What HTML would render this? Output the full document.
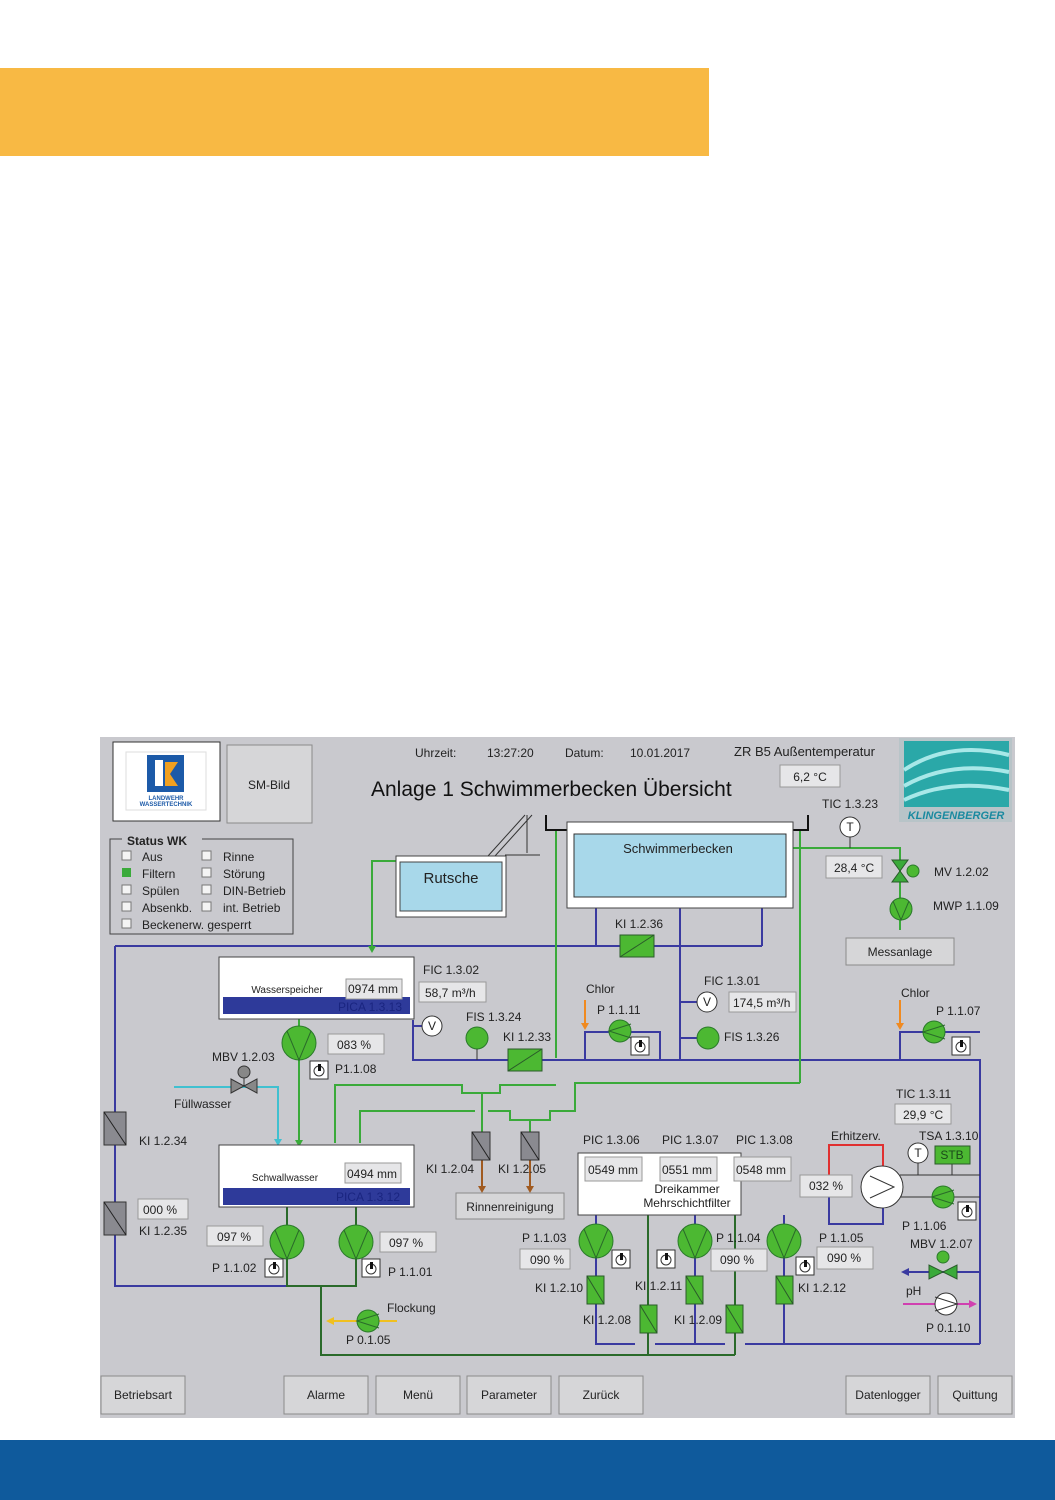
<!DOCTYPE html>
<html><head><meta charset="utf-8"><style>
html,body{margin:0;padding:0;background:#fff}
svg{display:block}
text{font-family:"Liberation Sans",sans-serif;fill:#222;font-size:12px}
.b{fill:#e6e6e8;stroke:#999;stroke-width:1}
.btn{fill:#d6d6d8;stroke:#8a8a8a;stroke-width:1}
.g{stroke:#3aaa3a;stroke-width:2;fill:none}
.dg{stroke:#2a6a2a;stroke-width:2;fill:none}
.bl{stroke:#3a3aa0;stroke-width:2;fill:none}
.pc{fill:#4cb832;stroke:#2a7a2a;stroke-width:1}
.pv{stroke:#2a6a2a;stroke-width:1;fill:none}
.kg{fill:#4cb832;stroke:#2a5a2a;stroke-width:1}
.kgr{fill:#8a8a90;stroke:#333;stroke-width:1}
.cb{fill:#f4f4f4;stroke:#777;stroke-width:1}
.sw{fill:#fff;stroke:#333;stroke-width:1}
</style></head><body>
<svg width="1055" height="1500" viewBox="0 0 1055 1500" xmlns="http://www.w3.org/2000/svg">
<rect x="0" y="68" width="709" height="88" fill="#f8b944"/>
<rect x="0" y="1440" width="1055" height="60" fill="#0f5a9c"/>
<rect x="100" y="737" width="915" height="681" fill="#c9c9ce"/>

<!-- logos -->
<rect x="113" y="742" width="107" height="79" fill="#fff" stroke="#333"/>
<rect x="126" y="752" width="80" height="58" fill="#fff" stroke="#ddd"/>
<rect x="147" y="755" width="37" height="37" fill="#1c5aa8"/>
<rect x="155" y="760" width="8" height="26" fill="#fff"/>
<polygon points="165,762 178,762 170,774 178,786 165,786" fill="#f0a020"/>
<text x="166" y="800" text-anchor="middle" style="font-size:6px;fill:#1c5aa8;font-weight:bold">LANDWEHR</text>
<text x="166" y="806" text-anchor="middle" style="font-size:6px;fill:#1c5aa8;font-weight:bold">WASSERTECHNIK</text>
<rect x="227" y="745" width="85" height="78" class="btn"/>
<text x="269" y="789" text-anchor="middle">SM-Bild</text>
<rect x="899" y="738" width="113" height="84" fill="#b8c4c8"/>
<rect x="904" y="741" width="105" height="66" fill="#2aa8a8"/>
<path d="M904,770 Q950,740 1009,755 M904,786 Q950,760 1009,772 M904,800 Q950,778 1009,790" stroke="#a8e8e8" stroke-width="4" fill="none"/>
<text x="956" y="819" text-anchor="middle" style="font-size:11px;fill:#1a8aa0;font-weight:bold;font-style:italic">KLINGENBERGER</text>

<!-- header -->
<text x="415" y="757">Uhrzeit:</text>
<text x="487" y="757">13:27:20</text>
<text x="565" y="757">Datum:</text>
<text x="630" y="757">10.01.2017</text>
<text x="734" y="756" style="font-size:13px">ZR B5 Außentemperatur</text>
<rect x="780" y="765" width="60" height="22" class="b"/>
<text x="810" y="781" text-anchor="middle">6,2 °C</text>
<text x="371" y="796" style="font-size:21px;fill:#111">Anlage 1 Schwimmerbecken Übersicht</text>

<!-- status -->
<rect x="110" y="839" width="183" height="95" fill="none" stroke="#444"/>
<rect x="122" y="832" width="80" height="14" fill="#c9c9ce"/>
<text x="127" y="845" style="font-weight:bold;font-size:12px">Status WK</text>
<g>
<rect x="122" y="851" width="9" height="9" class="cb"/><text x="142" y="861">Aus</text>
<rect x="122" y="868" width="9" height="9" fill="#3aaa3a"/><text x="142" y="878">Filtern</text>
<rect x="122" y="885" width="9" height="9" class="cb"/><text x="142" y="895">Spülen</text>
<rect x="122" y="902" width="9" height="9" class="cb"/><text x="142" y="912">Absenkb.</text>
<rect x="122" y="919" width="9" height="9" class="cb"/><text x="142" y="929">Beckenerw. gesperrt</text>
<rect x="202" y="851" width="9" height="9" class="cb"/><text x="223" y="861">Rinne</text>
<rect x="202" y="868" width="9" height="9" class="cb"/><text x="223" y="878">Störung</text>
<rect x="202" y="885" width="9" height="9" class="cb"/><text x="223" y="895">DIN-Betrieb</text>
<rect x="202" y="902" width="9" height="9" class="cb"/><text x="223" y="912">int. Betrieb</text>
</g>

<!-- pipes -->
<path class="bl" d="M115,946 H762 M596,908 V946 M762,908 V946 M680,908 V1060 M115,946 V1286 H320"/>
<path class="bl" d="M413,1020 V1060 H980 V1344 M585,1060 V1032 H660 V1060 M900,1060 V1032 H980 M680,1002 H697 M680,1038 H697 M440,1026 H413"/>
<path class="bl" d="M596,1215 V1344 H635 M655,1344 H725 M745,1344 H980 M695,1215 V1344 M784,1215 V1344"/>
<path class="bl" d="M829,1195 V1224 H883 V1208 M903,1272 H980"/>
<polygon points="901,1272 909,1268 909,1276" fill="#3a3aa0"/>
<path d="M829,1187 V1145 H883 V1166" stroke="#e03030" stroke-width="2" fill="none"/>
<path class="g" d="M396,861 H372 V948 M556,830 V1058 M800,830 V1083 M793,848 H900 V930 M299,1019 V1143 M335,1143 V1085 H462 V1093 H500 V1085 H556 M360,1143 V1111 H475 M488,1111 H510 V1120 H550 V1111 H575 V1083 H800 M482,1093 V1132 M530,1120 V1132"/>
<polygon points="368,946 376,946 372,953" fill="#3aaa3a"/>
<polygon points="295,1140 303,1140 299,1147" fill="#3aaa3a"/>
<path d="M174,1087 H278 V1141" stroke="#40c0d0" stroke-width="2" fill="none"/>
<polygon points="274,1139 282,1139 278,1146" fill="#40c0d0"/>
<path d="M482,1160 V1188 M530,1160 V1188" stroke="#a05a20" stroke-width="2"/>
<polygon points="478,1186 486,1186 482,1193" fill="#a05a20"/>
<polygon points="526,1186 534,1186 530,1193" fill="#a05a20"/>
<path class="dg" d="M287,1207 V1286 H356 V1207 M321,1286 V1355 H735 M648,1215 V1355 M735,1215 V1355"/>
<path d="M330,1321 H397" stroke="#f0c020" stroke-width="2"/>
<polygon points="326,1321 334,1317 334,1325" fill="#f0c020"/>
<path d="M585,1000 V1025 M900,1000 V1025" stroke="#f08a20" stroke-width="2"/>
<polygon points="581,1023 589,1023 585,1030" fill="#f08a20"/>
<polygon points="896,1023 904,1023 900,1030" fill="#f08a20"/>
<path d="M903,1304 H972" stroke="#d040b0" stroke-width="2"/>
<polygon points="977,1304 969,1300 969,1308" fill="#d040b0"/>
<path d="M900,1175 H980 M900,1197 H980 M918,1163 V1175 M952,1164 V1175" stroke="#333" stroke-width="1"/>

<!-- slide & bracket -->
<path d="M488,856 L525,815 M495,856 L532,815 M505,855 H540 M527,815 V853" stroke="#333" stroke-width="1" fill="none"/>
<path d="M546,815 V830 H567 M808,815 V830 H793" stroke="#111" stroke-width="2" fill="none"/>

<!-- tanks -->
<rect x="396" y="856" width="110" height="61" fill="#fff" stroke="#444"/>
<rect x="400" y="862" width="102" height="49" fill="#a8d8ea" stroke="#444"/>
<text x="451" y="883" text-anchor="middle" style="font-size:15px">Rutsche</text>
<rect x="567" y="822" width="226" height="86" fill="#fff" stroke="#444"/>
<rect x="574" y="834" width="212" height="63" fill="#a8d8ea" stroke="#333"/>
<text x="678" y="853" text-anchor="middle" style="font-size:13px">Schwimmerbecken</text>
<rect x="219" y="957" width="195" height="62" fill="#fff" stroke="#444"/>
<rect x="223" y="997" width="187" height="17" fill="#2e3a9a"/>
<text x="287" y="993" text-anchor="middle" style="font-size:10px">Wasserspeicher</text>
<rect x="346" y="979" width="56" height="20" class="b"/><text x="348" y="993">0974 mm</text>
<text x="402" y="1011" text-anchor="end" style="fill:#1a2580">PICA 1.3.13</text>
<rect x="219" y="1145" width="195" height="62" fill="#fff" stroke="#444"/>
<rect x="223" y="1188" width="187" height="17" fill="#2e3a9a"/>
<text x="285" y="1181" text-anchor="middle" style="font-size:10px">Schwallwasser</text>
<rect x="345" y="1163" width="56" height="20" class="b"/><text x="347" y="1178">0494 mm</text>
<text x="400" y="1201" text-anchor="end" style="fill:#1a2580">PICA 1.3.12</text>
<rect x="578" y="1153" width="163" height="62" fill="#fff" stroke="#444"/>
<rect x="585" y="1157" width="57" height="24" class="b"/><text x="588" y="1174">0549 mm</text>
<rect x="660" y="1157" width="57" height="24" class="b"/><text x="662" y="1174">0551 mm</text>
<rect x="734" y="1157" width="57" height="24" class="b"/><text x="736" y="1174">0548 mm</text>
<text x="687" y="1193" text-anchor="middle">Dreikammer</text>
<text x="687" y="1207" text-anchor="middle">Mehrschichtfilter</text>

<!-- KI boxes -->
<g stroke="#2a5a2a" stroke-width="1">
<rect x="620" y="935" width="34" height="22" class="kg"/><line x1="620" y1="957" x2="654" y2="935"/>
<rect x="508" y="1049" width="34" height="22" class="kg"/><line x1="508" y1="1071" x2="542" y2="1049"/>
<rect x="587" y="1276" width="17" height="28" class="kg"/><line x1="587" y1="1276" x2="604" y2="1304"/>
<rect x="640" y="1305" width="17" height="28" class="kg"/><line x1="640" y1="1305" x2="657" y2="1333"/>
<rect x="686" y="1276" width="17" height="28" class="kg"/><line x1="686" y1="1276" x2="703" y2="1304"/>
<rect x="726" y="1305" width="17" height="28" class="kg"/><line x1="726" y1="1305" x2="743" y2="1333"/>
<rect x="776" y="1276" width="17" height="28" class="kg"/><line x1="776" y1="1276" x2="793" y2="1304"/>
</g>
<g stroke="#222" stroke-width="1">
<rect x="104" y="1112" width="22" height="33" class="kgr"/><line x1="104" y1="1112" x2="126" y2="1145"/>
<rect x="104" y="1202" width="22" height="33" class="kgr"/><line x1="104" y1="1202" x2="126" y2="1235"/>
<rect x="472" y="1132" width="18" height="28" class="kgr"/><line x1="472" y1="1132" x2="490" y2="1160"/>
<rect x="521" y="1132" width="18" height="28" class="kgr"/><line x1="521" y1="1132" x2="539" y2="1160"/>
</g>

<!-- big pumps -->
<g>
<circle cx="299" cy="1043" r="17" class="pc"/><polyline points="287,1031 299,1060 311,1031" class="pv"/>
<circle cx="287" cy="1242" r="17" class="pc"/><polyline points="275,1230 287,1259 299,1230" class="pv"/>
<circle cx="356" cy="1242" r="17" class="pc"/><polyline points="344,1230 356,1259 368,1230" class="pv"/>
<circle cx="596" cy="1241" r="17" class="pc"/><polyline points="584,1229 596,1258 608,1229" class="pv"/>
<circle cx="695" cy="1241" r="17" class="pc"/><polyline points="683,1229 695,1258 707,1229" class="pv"/>
<circle cx="784" cy="1241" r="17" class="pc"/><polyline points="772,1229 784,1258 796,1229" class="pv"/>
<circle cx="901" cy="909" r="11" class="pc"/><polyline points="893,901 901,920 909,901" class="pv"/>
<circle cx="477" cy="1038" r="11" class="pc"/><line x1="477" y1="1049" x2="477" y2="1060" stroke="#333"/>
<circle cx="708" cy="1038" r="11" class="pc"/>
<circle cx="620" cy="1031" r="11" class="pc"/><polyline points="631,1024 609,1031 631,1038" class="pv"/>
<circle cx="934" cy="1032" r="11" class="pc"/><polyline points="945,1025 923,1032 945,1039" class="pv"/>
<circle cx="368" cy="1321" r="11" class="pc"/><polyline points="379,1314 357,1321 379,1328" class="pv"/>
<circle cx="943" cy="1197" r="11" class="pc"/><polyline points="954,1190 932,1197 954,1204" class="pv"/>
<circle cx="946" cy="1304" r="11" fill="#fff" stroke="#333"/><polyline points="935,1297 957,1304 935,1311" fill="none" stroke="#333"/>
</g>
<!-- valves -->
<polygon points="892,860 908,860 892,882 908,882" fill="#3aaa3a" stroke="#2a5a2a"/>
<circle cx="913" cy="871" r="6" class="pc"/>
<polygon points="231,1079 231,1093 257,1079 257,1093" fill="#888" stroke="#333"/>
<circle cx="244" cy="1072" r="6" fill="#888" stroke="#333"/>
<line x1="244" y1="1078" x2="244" y2="1086" stroke="#333"/>
<polygon points="929,1265 929,1279 957,1265 957,1279" fill="#3aaa3a" stroke="#2a5a2a"/>
<circle cx="943" cy="1257" r="6" class="pc"/>
<!-- instruments -->
<circle cx="850" cy="827" r="10" fill="#fff" stroke="#333"/><text x="850" y="831" text-anchor="middle">T</text>
<line x1="850" y1="837" x2="850" y2="848" stroke="#333"/>
<circle cx="432" cy="1026" r="10" fill="#fff" stroke="#333"/><text x="432" y="1030" text-anchor="middle">V</text>
<circle cx="707" cy="1002" r="10" fill="#fff" stroke="#333"/><text x="707" y="1006" text-anchor="middle">V</text>
<circle cx="918" cy="1153" r="10" fill="#fff" stroke="#333"/><text x="918" y="1157" text-anchor="middle">T</text>
<rect x="935" y="1146" width="35" height="18" fill="#4cb832" stroke="#2a5a2a"/><text x="952" y="1159" text-anchor="middle" style="fill:#1a4a1a">STB</text>
<circle cx="882" cy="1187" r="21" fill="#fff" stroke="#333"/>
<polyline points="870,1176 894,1187 870,1198" fill="none" stroke="#333"/>

<!-- switches -->
<g>
<rect x="310" y="1061" width="18" height="18" class="sw"/><circle cx="319" cy="1071" r="5" fill="none" stroke="#333"/><rect x="318" y="1064" width="3" height="7" fill="#111"/>
<rect x="265" y="1259" width="18" height="18" class="sw"/><circle cx="274" cy="1269" r="5" fill="none" stroke="#333"/><rect x="273" y="1262" width="3" height="7" fill="#111"/>
<rect x="362" y="1259" width="18" height="18" class="sw"/><circle cx="371" cy="1269" r="5" fill="none" stroke="#333"/><rect x="370" y="1262" width="3" height="7" fill="#111"/>
<rect x="612" y="1250" width="18" height="18" class="sw"/><circle cx="621" cy="1260" r="5" fill="none" stroke="#333"/><rect x="620" y="1253" width="3" height="7" fill="#111"/>
<rect x="657" y="1250" width="18" height="18" class="sw"/><circle cx="666" cy="1260" r="5" fill="none" stroke="#333"/><rect x="665" y="1253" width="3" height="7" fill="#111"/>
<rect x="796" y="1257" width="18" height="18" class="sw"/><circle cx="805" cy="1267" r="5" fill="none" stroke="#333"/><rect x="804" y="1260" width="3" height="7" fill="#111"/>
<rect x="631" y="1037" width="18" height="18" class="sw"/><circle cx="640" cy="1047" r="5" fill="none" stroke="#333"/><rect x="639" y="1040" width="3" height="7" fill="#111"/>
<rect x="952" y="1037" width="18" height="18" class="sw"/><circle cx="961" cy="1047" r="5" fill="none" stroke="#333"/><rect x="960" y="1040" width="3" height="7" fill="#111"/>
<rect x="958" y="1202" width="18" height="18" class="sw"/><circle cx="967" cy="1212" r="5" fill="none" stroke="#333"/><rect x="966" y="1205" width="3" height="7" fill="#111"/>
</g>

<!-- value boxes -->
<rect x="826" y="856" width="56" height="22" class="b"/><text x="834" y="872">28,4 °C</text>
<rect x="419" y="982" width="67" height="20" class="b"/><text x="425" y="997">58,7 m³/h</text>
<rect x="729" y="992" width="67" height="20" class="b"/><text x="733" y="1007">174,5 m³/h</text>
<rect x="328" y="1034" width="56" height="20" class="b"/><text x="337" y="1049">083 %</text>
<rect x="138" y="1199" width="50" height="20" class="b"/><text x="143" y="1214">000 %</text>
<rect x="207" y="1226" width="56" height="20" class="b"/><text x="217" y="1241">097 %</text>
<rect x="380" y="1232" width="56" height="20" class="b"/><text x="389" y="1247">097 %</text>
<rect x="520" y="1249" width="50" height="20" class="b"/><text x="530" y="1264">090 %</text>
<rect x="711" y="1249" width="56" height="22" class="b"/><text x="720" y="1264">090 %</text>
<rect x="817" y="1247" width="56" height="22" class="b"/><text x="827" y="1262">090 %</text>
<rect x="800" y="1175" width="52" height="22" class="b"/><text x="809" y="1190">032 %</text>
<rect x="895" y="1104" width="56" height="20" class="b"/><text x="903" y="1119">29,9 °C</text>

<!-- labels -->
<text x="822" y="808">TIC 1.3.23</text>
<text x="934" y="876">MV 1.2.02</text>
<text x="933" y="910">MWP 1.1.09</text>
<text x="615" y="928">KI 1.2.36</text>
<text x="423" y="974">FIC 1.3.02</text>
<text x="704" y="985">FIC 1.3.01</text>
<text x="586" y="993">Chlor</text>
<text x="597" y="1014">P 1.1.11</text>
<text x="901" y="997">Chlor</text>
<text x="936" y="1015">P 1.1.07</text>
<text x="466" y="1021">FIS 1.3.24</text>
<text x="503" y="1041">KI 1.2.33</text>
<text x="724" y="1041">FIS 1.3.26</text>
<text x="212" y="1061">MBV 1.2.03</text>
<text x="335" y="1073">P1.1.08</text>
<text x="174" y="1108">Füllwasser</text>
<text x="139" y="1145">KI 1.2.34</text>
<text x="139" y="1235">KI 1.2.35</text>
<text x="426" y="1173">KI 1.2.04</text>
<text x="498" y="1173">KI 1.2.05</text>
<text x="583" y="1144">PIC 1.3.06</text>
<text x="662" y="1144">PIC 1.3.07</text>
<text x="736" y="1144">PIC 1.3.08</text>
<text x="831" y="1140">Erhitzerv.</text>
<text x="896" y="1098">TIC 1.3.11</text>
<text x="919" y="1140">TSA 1.3.10</text>
<text x="902" y="1230">P 1.1.06</text>
<text x="910" y="1248">MBV 1.2.07</text>
<text x="906" y="1295">pH</text>
<text x="926" y="1332">P 0.1.10</text>
<text x="522" y="1242">P 1.1.03</text>
<text x="716" y="1242">P 1.1.04</text>
<text x="819" y="1242">P 1.1.05</text>
<text x="212" y="1272">P 1.1.02</text>
<text x="388" y="1276">P 1.1.01</text>
<text x="535" y="1292">KI 1.2.10</text>
<text x="635" y="1290">KI 1.2.11</text>
<text x="798" y="1292">KI 1.2.12</text>
<text x="583" y="1324">KI 1.2.08</text>
<text x="674" y="1324">KI 1.2.09</text>
<text x="387" y="1312">Flockung</text>
<text x="346" y="1344">P 0.1.05</text>

<!-- buttons -->
<rect x="846" y="938" width="108" height="27" class="btn"/><text x="900" y="956" text-anchor="middle">Messanlage</text>
<rect x="456" y="1193" width="108" height="26" class="btn"/><text x="510" y="1211" text-anchor="middle">Rinnenreinigung</text>
<rect x="101" y="1376" width="84" height="38" class="btn"/><text x="143" y="1399" text-anchor="middle">Betriebsart</text>
<rect x="284" y="1376" width="84" height="38" class="btn"/><text x="326" y="1399" text-anchor="middle">Alarme</text>
<rect x="376" y="1376" width="84" height="38" class="btn"/><text x="418" y="1399" text-anchor="middle">Menü</text>
<rect x="467" y="1376" width="84" height="38" class="btn"/><text x="509" y="1399" text-anchor="middle">Parameter</text>
<rect x="559" y="1376" width="84" height="38" class="btn"/><text x="601" y="1399" text-anchor="middle">Zurück</text>
<rect x="846" y="1376" width="84" height="38" class="btn"/><text x="888" y="1399" text-anchor="middle">Datenlogger</text>
<rect x="938" y="1376" width="74" height="38" class="btn"/><text x="975" y="1399" text-anchor="middle">Quittung</text>
</svg>
</body></html>
